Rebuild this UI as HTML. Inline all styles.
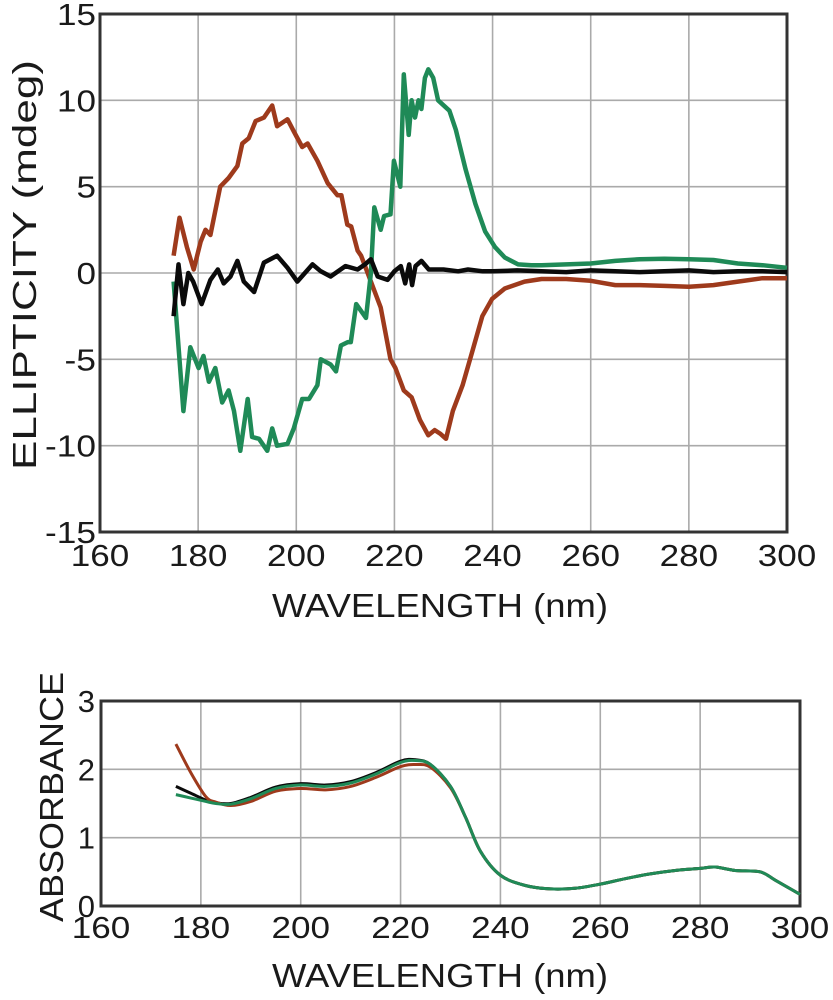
<!DOCTYPE html>
<html><head><meta charset="utf-8"><style>
html,body{margin:0;padding:0;background:#fff}
svg{display:block}
text{font-family:"Liberation Sans",sans-serif;fill:#1a1a1a}
</style></head><body>
<svg id="chart" width="833" height="1000" viewBox="0 0 833 1000" xmlns="http://www.w3.org/2000/svg">
<g id="topChart"></g>
<g id="botChart"></g>
</svg>
<script>
// ---- data ----
const xTicks = [160,180,200,220,240,260,280,300];
const cdYTicks = [-15,-10,-5,0,5,10,15];
const absYTicks = [0,1,2,3];

const cdRedX = [175,176.2,177.7,179.1,180.5,181.5,182.5,184.5,186.2,188,189,190.3,191.7,193.4,195.1,196.1,198.2,199.5,201.2,202.3,204.3,206.4,208.4,209.2,210.4,211.2,212.5,213.2,215.2,217.2,219.2,220.2,221.9,223.5,225.2,226.9,228.2,229.3,230.5,231.9,233.9,235.9,237.9,239.9,242.5,246.5,250,255,260,265,270,275,280,285,290,295,300];
const cdRedY = [1.0,3.2,1.5,0.2,1.8,2.5,2.2,5,5.5,6.2,7.5,7.8,8.8,9,9.7,8.5,8.9,8.2,7.3,7.5,6.5,5.2,4.5,4.5,2.8,2.7,1.3,1,-0.5,-2,-5,-5.5,-6.8,-7.2,-8.5,-9.4,-9.1,-9.3,-9.6,-8,-6.5,-4.5,-2.5,-1.5,-0.9,-0.5,-0.35,-0.35,-0.45,-0.7,-0.7,-0.75,-0.8,-0.7,-0.5,-0.3,-0.3];

const cdGreenX = [175,177,178.4,180.1,181.1,182.2,183.5,184.9,186.2,187.3,188.6,190.1,191,192.4,194.1,195.1,196.1,198.2,199.5,201.2,202.6,204.3,205,207,208.1,209.1,210.5,211.1,212.2,214.2,215.2,215.9,217.2,217.9,219.2,219.9,221.2,221.9,222.9,223.5,224.2,224.9,225.5,226.2,226.9,227.9,228.9,231.2,232.5,234.5,236.5,238.5,240.5,242.5,245.2,247.9,250,255,260,265,270,275,280,285,290,295,300];
const cdGreenY = [-0.5,-8,-4.3,-5.5,-4.8,-6.3,-5.5,-7.5,-6.8,-8,-10.3,-7.3,-9.5,-9.6,-10.3,-9,-10,-9.9,-9,-7.3,-7.3,-6.5,-5,-5.3,-5.7,-4.2,-4,-4,-1.8,-2.6,0,3.8,2.5,3.3,3.4,6.5,5,11.5,8,10,9,10,9.5,11.3,11.8,11.3,10,9.4,8.3,6,4,2.4,1.5,0.9,0.5,0.45,0.45,0.5,0.55,0.7,0.8,0.82,0.8,0.75,0.55,0.45,0.3];

const cdBlackX = [175,176,177,178,179,180.7,182.5,184,185.2,186.6,188,189.3,191.4,193.4,196.1,198.2,200.2,203.3,205,207,210,212.5,214,215.2,216.6,218.6,220,221.3,222.2,223,223.6,224.3,225.5,227,230,233,235,238,240,245,250,255,260,265,270,275,280,285,290,295,300];
const cdBlackY = [-2.5,0.5,-1.8,0,-0.5,-1.8,-0.4,0.2,-0.6,-0.2,0.7,-0.5,-1.1,0.6,1.0,0.3,-0.5,0.5,0.1,-0.2,0.4,0.2,0.5,0.8,-0.2,-0.4,0.1,0.4,-0.6,0.5,-0.7,0.4,0.7,0.2,0.2,0.1,0.2,0.1,0.1,0.15,0.1,0.05,0.15,0.1,0.05,0.1,0.15,0.05,0.1,0.1,0.05];

const absX = [175,178,181,183,186,190,195,200,205,210,215,220,223,226,230,233,236,240,245,250,255,260,265,270,275,280,283,287,292,295,300];
const absGreen = [1.63,1.58,1.53,1.5,1.49,1.57,1.72,1.77,1.75,1.8,1.93,2.1,2.13,2.07,1.75,1.3,0.8,0.45,0.3,0.25,0.26,0.32,0.4,0.47,0.52,0.55,0.57,0.52,0.5,0.38,0.17];
const absBlack = [1.75,1.65,1.55,1.51,1.5,1.59,1.74,1.79,1.77,1.82,1.95,2.12,2.14,2.07,1.75,1.3,0.8,0.45,0.3,0.25,0.26,0.32,0.4,0.47,0.52,0.55,0.57,0.52,0.5,0.38,0.17];
const absRed = [2.37,1.95,1.6,1.52,1.47,1.53,1.68,1.72,1.7,1.75,1.88,2.04,2.07,2.03,1.73,1.3,0.8,0.45,0.3,0.25,0.26,0.32,0.4,0.47,0.52,0.55,0.57,0.52,0.5,0.38,0.17];

// ---- helpers ----
const NS = "http://www.w3.org/2000/svg";
function mk(parent, tag, attrs, txt){
  const e = document.createElementNS(NS, tag);
  for (const k in attrs) e.setAttribute(k, attrs[k]);
  if (txt !== undefined) e.textContent = txt;
  parent.appendChild(e);
  return e;
}
function numLen(s){ let w=0; for (const c of s) w += (c==='-'?12:19.5); return w; }
function linPath(xs, ys, fx, fy){
  return xs.map((x,i)=>(i?'L':'M')+fx(x).toFixed(1)+','+fy(ys[i]).toFixed(1)).join('');
}
function smoothPath(xs, ys, fx, fy){
  const p = xs.map((x,i)=>[fx(x), fy(ys[i])]);
  let d = 'M'+p[0][0]+','+p[0][1];
  for (let i=0;i<p.length-1;i++){
    const p0=p[i-1]||p[i], p1=p[i], p2=p[i+1], p3=p[i+2]||p2;
    const c1=[p1[0]+(p2[0]-p0[0])/6, p1[1]+(p2[1]-p0[1])/6];
    const c2=[p2[0]-(p3[0]-p1[0])/6, p2[1]-(p3[1]-p1[1])/6];
    d += 'C'+c1.join(',')+' '+c2.join(',')+' '+p2.join(',');
  }
  return d;
}

// ---- top chart ----
const topG = document.getElementById('topChart');
const tL=100, tR=787, tT=14, tB=532;
const tx = v => tL + (v-160)/(140)*(tR-tL);
const ty = v => tT + (15-v)/30*(tB-tT);
xTicks.forEach(v=>{
  if (v>160 && v<300){
    const g = mk(topG,'line',{x1:tx(v),x2:tx(v),y1:tT,y2:tB,stroke:'#aaa','stroke-width':1.6});
    
    
  }
  const s = String(v);
  const t = mk(topG,'text',{x:tx(v),y:566,'text-anchor':'middle','font-size':31,textLength:numLen(s),lengthAdjust:'spacingAndGlyphs'},s);
  
  
});
cdYTicks.forEach(v=>{
  if (v>-15 && v<15){
    const g = mk(topG,'line',{x1:tL,x2:tR,y1:ty(v),y2:ty(v),stroke:'#aaa','stroke-width':1.6});
    
    
  }
  const s = String(v);
  const t = mk(topG,'text',{x:96,y:ty(v)+11,'text-anchor':'end','font-size':31,textLength:numLen(s),lengthAdjust:'spacingAndGlyphs'},s);
  
  
});
const tb = mk(topG,'rect',{x:tL,y:tT,width:tR-tL,height:tB-tT,fill:'none',stroke:'#333','stroke-width':3});


[[cdRedX,cdRedY,'#9e3a1c','cd-red-line'],[cdGreenX,cdGreenY,'#1f8a57','cd-green-line'],[cdBlackX,cdBlackY,'#0a0a0a','cd-black-line']].forEach(s=>{
  const p = mk(topG,'path',{d:linPath(s[0],s[1],tx,ty),fill:'none',stroke:s[2],'stroke-width':4.5,'stroke-linejoin':'round'});
  
  
});
const tyT = mk(topG,'text',{x:0,y:0,transform:'translate(36,265) rotate(-90)','text-anchor':'middle','font-size':33,textLength:410,lengthAdjust:'spacingAndGlyphs'},'ELLIPTICITY (mdeg)');


const txT = mk(topG,'text',{x:440,y:617,'text-anchor':'middle','font-size':33,textLength:336,lengthAdjust:'spacingAndGlyphs'},'WAVELENGTH (nm)');



// ---- bottom chart ----
const botG = document.getElementById('botChart');
const bL=101, bR=800, bT=701, bB=906;
const bx = v => bL + (v-160)/140*(bR-bL);
const by = v => bB - v/3*(bB-bT);
xTicks.forEach(v=>{
  if (v>160 && v<300){
    const g = mk(botG,'line',{x1:bx(v),x2:bx(v),y1:bT,y2:bB,stroke:'#aaa','stroke-width':1.6});
    
    
  }
  const s = String(v);
  const t = mk(botG,'text',{x:bx(v),y:938,'text-anchor':'middle','font-size':31,textLength:numLen(s),lengthAdjust:'spacingAndGlyphs'},s);
  
  
});
absYTicks.forEach(v=>{
  if (v>0 && v<3){
    const g = mk(botG,'line',{x1:bL,x2:bR,y1:by(v),y2:by(v),stroke:'#aaa','stroke-width':1.6});
    
    
  }
  const t = mk(botG,'text',{x:95,y:by(v)+11,'text-anchor':'end','font-size':31},String(v));
  
  
});
const bb = mk(botG,'rect',{x:bL,y:bT,width:bR-bL,height:bB-bT,fill:'none',stroke:'#333','stroke-width':3});


[[absBlack,'#0a0a0a','abs-black-line'],[absRed,'#9e3a1c','abs-red-line'],[absGreen,'#1f8a57','abs-green-line']].forEach(s=>{
  const p = mk(botG,'path',{d:smoothPath(absX,s[0],bx,by),fill:'none',stroke:s[1],'stroke-width':3});
  
  
});
const byT = mk(botG,'text',{x:0,y:0,transform:'translate(63,797) rotate(-90)','text-anchor':'middle','font-size':33,textLength:250,lengthAdjust:'spacingAndGlyphs'},'ABSORBANCE');


const bxT = mk(botG,'text',{x:440,y:987,'text-anchor':'middle','font-size':33,textLength:336,lengthAdjust:'spacingAndGlyphs'},'WAVELENGTH (nm)');


</script>
</body></html>
